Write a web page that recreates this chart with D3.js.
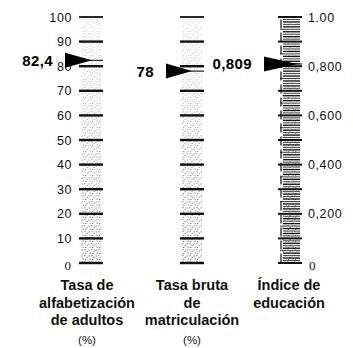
<!DOCTYPE html>
<html>
<head>
<meta charset="utf-8">
<script src="https://cdn.jsdelivr.net/npm/d3@7"></script>
<style>
  html, body { margin: 0; padding: 0; background: #fff; }
  svg { display: block; }
</style>
</head>
<body>
<svg id="chart" width="353" height="348"></svg>
<script>
// Education index diagram: two percentage scales feed a 0–1 index scale.
const scaleNames = [
  ["Tasa de", "alfabetización", "de adultos"],
  ["Tasa bruta", "de", "matriculación"],
  ["Índice de", "educación"]
];
const unitLabels = ["(%)", "(%)", ""];
const percentTicks = [10, 20, 30, 40, 50, 60, 70, 80, 90, 100];
const percentTickLabels = ["10", "20", "30", "40", "50", "60", "70", "80", "90", "100"];
const indexTicks = [0.2, 0.4, 0.6, 0.8, 1.0];
const indexTickLabels = ["0,200", "0,400", "0,600", "0,800", "1.00"];
const markerValues = [82.4, 78, 0.809];
const markerLabels = ["82,4", "78", "0,809"];

const svg = d3.select("#chart");
const font = "'Liberation Sans', Arial, Helvetica, sans-serif";
const serif = "'Liberation Serif', 'Times New Roman', serif";

const yPct = d3.scaleLinear().domain([0, 100]).range([263, 17]);
const yIdx = d3.scaleLinear().domain([0, 1]).range([263, 17]);

const colX = [79, 180, 278];   // left edge of each scale bar
const barW = 24;

// Stipple texture used between the ticks, denser toward the bottom
const defs = svg.append("defs");
const pat = defs.append("pattern")
  .attr("id", "stip").attr("patternUnits", "userSpaceOnUse")
  .attr("width", 7).attr("height", 6);
[[1, 1], [4.5, 3.5], [2.5, 4.8], [5.5, 0.6], [0.2, 3.2]].forEach(([x, y]) => {
  pat.append("rect").attr("x", x).attr("y", y).attr("width", 1.3).attr("height", 1)
    .attr("fill", "#666");
});
const grad = defs.append("linearGradient").attr("id", "fade")
  .attr("x1", 0).attr("y1", 0).attr("x2", 0).attr("y2", 1);
grad.append("stop").attr("offset", "0%").attr("stop-color", "#fff").attr("stop-opacity", 0.25);
grad.append("stop").attr("offset", "100%").attr("stop-color", "#fff").attr("stop-opacity", 1);
defs.append("mask").attr("id", "fadeMask")
  .append("rect").attr("x", 0).attr("y", 17).attr("width", 353).attr("height", 246)
  .attr("fill", "url(#fade)");

[0, 1].forEach(i => {
  svg.append("rect")
    .attr("x", colX[i] + 2).attr("y", yPct(100))
    .attr("width", barW - 4).attr("height", yPct(0) - yPct(100))
    .attr("fill", "url(#stip)").attr("mask", "url(#fadeMask)");
});
svg.append("rect")
  .attr("x", colX[2] + 4).attr("y", yIdx(1))
  .attr("width", barW - 6).attr("height", yIdx(0) - yIdx(1))
  .attr("fill", "url(#stip)").attr("mask", "url(#fadeMask)").attr("opacity", 0.8);

// Percentage scales: ticks every 10
[0, 1].forEach(i => {
  const g = svg.append("g").attr("transform", `translate(${colX[i]},0)`);
  g.selectAll("line.tick").data([0].concat(percentTicks)).join("line")
    .attr("class", "tick")
    .attr("x1", 0).attr("x2", barW)
    .attr("y1", d => yPct(d)).attr("y2", d => yPct(d))
    .attr("stroke", "#111").attr("stroke-width", d => d === 100 ? 1.8 : 2.4);
});

// Labels for the first scale
svg.append("g").selectAll("text").data(percentTicks).join("text")
  .attr("x", 72).attr("y", d => yPct(d)).attr("dy", "0.36em")
  .attr("text-anchor", "end").attr("font-family", font).attr("font-size", 12.5)
  .attr("letter-spacing", 0.6).attr("fill", "#111")
  .text((d, i) => percentTickLabels[i]);
svg.append("text").attr("x", 71).attr("y", yPct(0) + 2).attr("dy", "0.36em")
  .attr("text-anchor", "end").attr("font-family", serif).attr("font-size", 13)
  .attr("fill", "#111").text("0");

// Index scale: fine graduations every 0.01
const fine = d3.range(0, 101).map(k => k / 100);
const g3 = svg.append("g").attr("transform", `translate(${colX[2]},0)`);
g3.selectAll("line").data(fine).join("line")
  .attr("x1", d => {
    const k = Math.round(d * 100);
    return k % 10 === 0 ? 0 : (k % 5 === 0 ? 2 : 5);
  })
  .attr("x2", d => Math.round(d * 100) % 10 === 0 ? barW : barW - 2)
  .attr("y1", d => yIdx(d)).attr("y2", d => yIdx(d))
  .attr("stroke", "#111")
  .attr("stroke-width", d => Math.round(d * 100) % 10 === 0 ? 2 : (Math.round(d * 100) % 2 === 0 ? 1.3 : 0.8));
g3.append("line").attr("x1", 3).attr("x2", 3)
  .attr("y1", yIdx(0.99)).attr("y2", yIdx(0))
  .attr("stroke", "#111").attr("stroke-width", 1.2).attr("stroke-dasharray", "9,4");

svg.append("g").selectAll("text").data(indexTicks).join("text")
  .attr("x", 308).attr("y", d => yIdx(d)).attr("dy", "0.36em")
  .attr("text-anchor", "start").attr("font-family", font).attr("font-size", 12.5)
  .attr("letter-spacing", 0.6).attr("fill", "#111")
  .text((d, i) => indexTickLabels[i]);
svg.append("text").attr("x", 309).attr("y", yIdx(0) + 2).attr("dy", "0.36em")
  .attr("font-family", serif).attr("font-size", 13).attr("fill", "#111").text("0");

// Value pointers
const markerY = [yPct(markerValues[0]), yPct(markerValues[1]), yIdx(markerValues[2])];
const tipX = [colX[0] + 13, colX[1] + 12, colX[2] + 19];
markerY.forEach((y, i) => {
  const base = colX[i] - 14;
  svg.append("path")
    .attr("d", `M${base},${y - 7.5}L${tipX[i]},${y}L${base},${y + 7.5}Z`)
    .attr("fill", "#000");
  svg.append("line").attr("x1", base).attr("x2", colX[i] + barW)
    .attr("y1", y).attr("y2", y).attr("stroke", "#000").attr("stroke-width", 1);
  svg.append("text")
    .attr("x", base - 12).attr("y", y).attr("dy", "0.36em")
    .attr("text-anchor", "end").attr("font-family", font).attr("font-weight", "bold")
    .attr("font-size", 15).attr("letter-spacing", 0.4).attr("fill", "#000")
    .text(markerLabels[i]);
});

// Scale titles
const titleCx = [87, 192, 289];
scaleNames.forEach((lines, i) => {
  const t = svg.append("text").attr("text-anchor", "middle")
    .attr("font-family", font).attr("font-weight", "bold").attr("font-size", 14.5)
    .attr("fill", "#111");
  lines.forEach((s, j) => {
    t.append("tspan").attr("x", titleCx[i]).attr("y", 290 + j * 17.5).text(s);
  });
  if (unitLabels[i]) {
    svg.append("text").attr("x", titleCx[i]).attr("y", 344)
      .attr("text-anchor", "middle").attr("font-family", font).attr("font-size", 11.5)
      .attr("fill", "#111").text(unitLabels[i]);
  }
});
</script>
</body>
</html>
